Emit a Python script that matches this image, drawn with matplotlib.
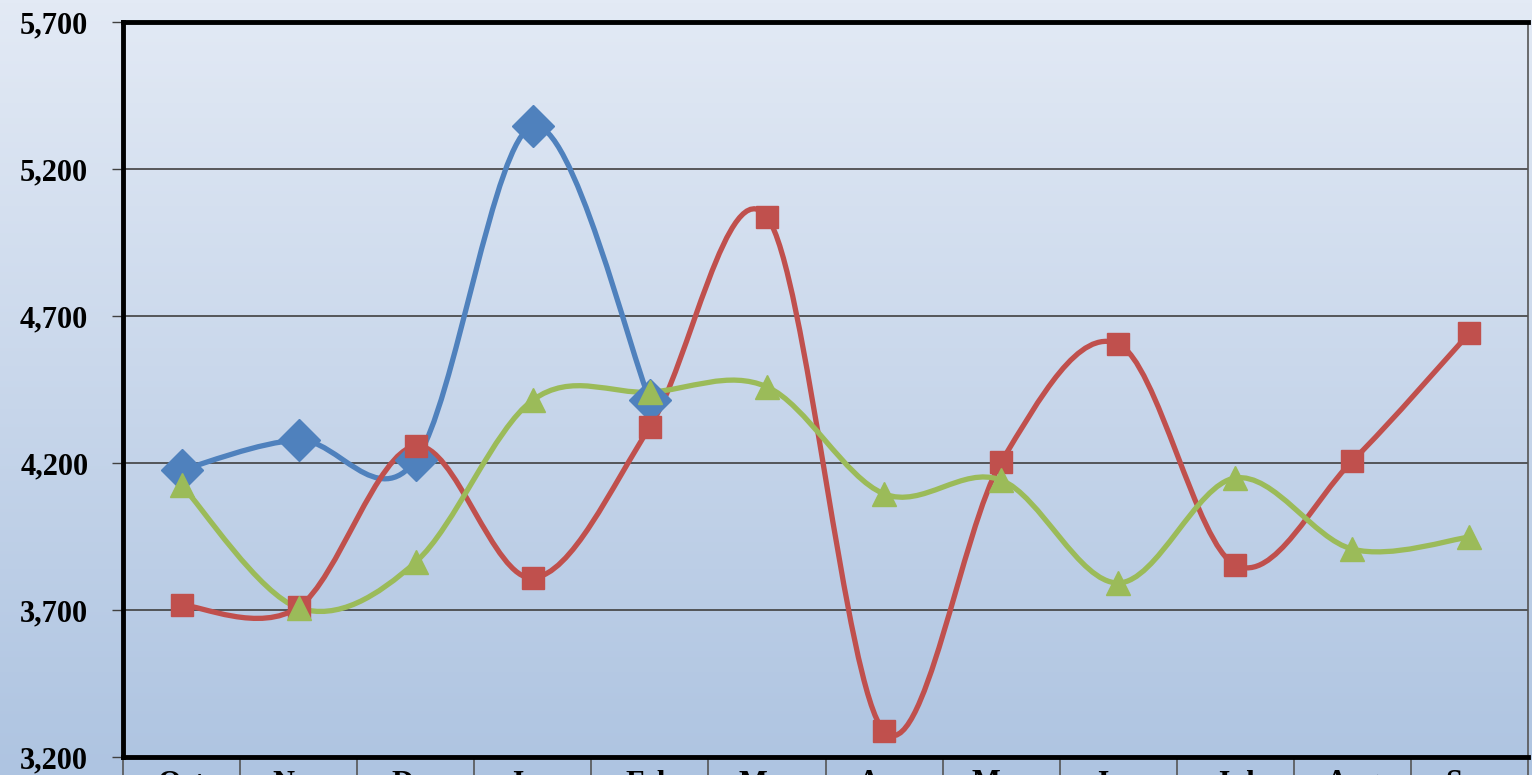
import numpy as np
import matplotlib.pyplot as plt
from matplotlib.path import Path
from matplotlib.patches import PathPatch
from matplotlib.ticker import FuncFormatter

# Monthly series
months = ["Oct", "Nov", "Dec", "Jan", "Feb", "Mar", "Apr", "May", "Jun", "Jul", "Aug", "Sep"]
series_blue = [4176, 4278, 4210, 5346, 4414]
series_red = [3717, 3710, 4258, 3809, 4322, 5037, 3288, 4203, 4605, 3853, 4207, 4642]
series_green = [4125, 3707, 3863, 4414, 4441, 4459, 4095, 4142, 3792, 4149, 3907, 3948]
yticks = [3200, 3700, 4200, 4700, 5200, 5700]

plt.rcParams['font.family'] = ['Liberation Serif', 'DejaVu Serif']

fig = plt.figure(figsize=(15.32, 7.75), dpi=100)

# Vertical gradient behind everything
bg = fig.add_axes([0, 0, 1, 1], zorder=-1)
grad = np.linspace(0, 1, 256).reshape(-1, 1)
top = np.array([227, 234, 245]) / 255
bot = np.array([174, 196, 225]) / 255
img = top + (bot - top) * grad[:, :, None]
bg.imshow(img, aspect='auto', extent=[0, 1, 0, 1], origin='upper')
bg.axis('off')

W, H = 1532, 775
ax = fig.add_axes([123 / W, (H - 757) / H, 1405 / W, 735 / H])
ax.set_facecolor('none')
ax.set_xlim(0, 12)
ax.set_ylim(3200, 5700)


def smooth_path(xs, ys):
    # Bezier smoothing with 1/6 control-point offsets
    pts = np.column_stack([xs, ys]).astype(float)
    n = len(pts)
    verts = [pts[0]]
    codes = [Path.MOVETO]
    for i in range(n - 1):
        p0 = pts[i - 1] if i > 0 else pts[i]
        p1 = pts[i]
        p2 = pts[i + 1]
        p3 = pts[i + 2] if i + 2 < n else pts[i + 1]
        c1 = p1 + (p2 - p0) / 6
        c2 = p2 - (p3 - p1) / 6
        verts += [c1, c2, p2]
        codes += [Path.CURVE4] * 3
    return Path(verts, codes)


styles = [
    (series_blue, '#4F81BD', 'D', 21),
    (series_red, '#C0504D', 's', 16),
    (series_green, '#9BBB59', '^', 17),
]
for vals, col, mk, ms in styles:
    xs = np.arange(len(vals)) + 0.5
    ax.add_patch(PathPatch(smooth_path(xs, vals), facecolor='none',
                           edgecolor=col, lw=3.8, capstyle='round', zorder=3))
    ax.plot(xs, vals, linestyle='none', marker=mk, ms=ms, color=col,
            markeredgecolor=col, zorder=4)

# Grid and axes
ax.set_yticks(yticks)
ax.grid(axis='y', color='#404040', lw=1.2, zorder=1)
ax.yaxis.set_major_formatter(FuncFormatter(lambda v, p: f"{int(v):,}"))
ax.tick_params(axis='y', labelsize=22, length=8, width=1, color='#404040', pad=17)
for lab in ax.get_yticklabels():
    lab.set_fontweight('bold')

ax.set_xticks(np.arange(0, 13))
ax.set_xticklabels([])
ax.set_xticks(np.arange(12) + 0.5, minor=True)
ax.set_xticklabels(months, minor=True, fontsize=22, fontweight='bold')
ax.tick_params(axis='x', which='major', length=22, width=1.2, color='#555555')
ax.tick_params(axis='x', which='minor', length=0, pad=9)

for side in ['top', 'left', 'bottom']:
    ax.spines[side].set_linewidth(3.5)
    ax.spines[side].set_color('black')
ax.spines['right'].set_linewidth(1.2)
ax.spines['right'].set_color('#555555')

fig.savefig('out.png', dpi=100)
